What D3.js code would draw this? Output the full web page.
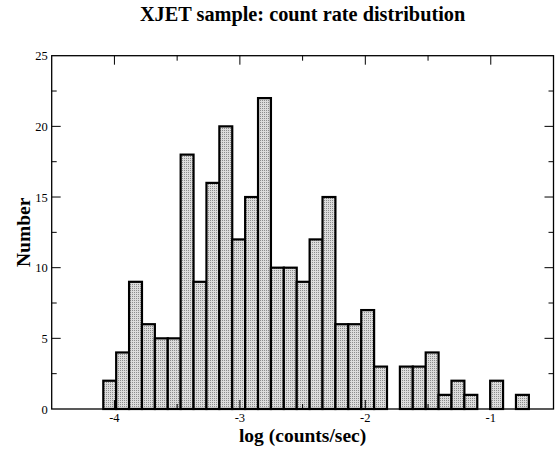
<!DOCTYPE html>
<html><head><meta charset="utf-8">
<script src="https://cdn.jsdelivr.net/npm/d3@7"></script>
<style>body{margin:0;background:#fff}svg{display:block}</style>
</head><body><div id="chart"></div>
<script>
// Histogram data: counts per bin, bins start at binStart with width binWidth
const binStart = -4.5;
const binWidth = 0.1028;
const counts = [0,0,0,0,2,4,9,6,5,5,18,9,16,20,12,15,22,10,10,9,12,15,6,6,7,3,0,3,3,4,1,2,1,0,2,0,1,0,0];
const xTickLabels = [-4,-3,-2,-1];
const xTicksMinor = [-3.5,-2.5,-1.5];
const yTicksMajor = [0,5,10,15,20,25];
const yTicksMinor = [2.5,7.5,12.5,17.5,22.5];
const title = "XJET sample: count rate distribution";
const xTitle = "log (counts/sec)";
const yTitle = "Number";

const W = 555, H = 449;
const m = {l:51.7, r:1.5, t:55.7, b:40};
const svg = d3.select("#chart").append("svg").attr("width",W).attr("height",H);
const x = d3.scaleLinear().domain([-4.5,-0.5]).range([m.l, W-m.r]);
const y = d3.scaleLinear().domain([0,25]).range([409, m.t]);

const defs = svg.append("defs");
const pat = defs.append("pattern").attr("id","dots").attr("patternUnits","userSpaceOnUse")
  .attr("width",2).attr("height",2);
pat.append("rect").attr("width",2).attr("height",2).attr("fill","#dcdcdc");
pat.append("rect").attr("width",1).attr("height",1).attr("fill","#8c8c8c");

defs.append("clipPath").attr("id","clip").append("rect")
  .attr("x",x(-4.5)).attr("y",m.t-2).attr("width",x(-0.5)-x(-4.5)).attr("height",409-m.t+4);

const bins = counts.map((c,i)=>({x0: binStart + i*binWidth, x1: binStart + (i+1)*binWidth, c}));
const g = svg.append("g").attr("clip-path","url(#clip)");
g.selectAll("rect.bar").data(bins).join("rect").attr("class","bar")
  .attr("x", d=>x(d.x0)).attr("width", d=>x(d.x1)-x(d.x0))
  .attr("y", d=>y(d.c)).attr("height", d=>y(0)-y(d.c))
  .attr("fill","url(#dots)").attr("stroke","#000").attr("stroke-width",2.2);

// frame
const frame = svg.append("g");
frame.append("rect").attr("x",x(-4.5)).attr("y",y(25)).attr("width",x(-0.5)-x(-4.5)).attr("height",y(0)-y(25))
  .attr("fill","none").attr("stroke","#000").attr("stroke-width",1.3);

// ticks (inward, on all four sides)
function xt(vals, len){
  frame.selectAll(null).data(vals).join("line")
    .attr("x1",d=>x(d)).attr("x2",d=>x(d)).attr("y1",y(0)).attr("y2",y(0)-len).attr("stroke","#000").attr("stroke-width",1);
  frame.selectAll(null).data(vals).join("line")
    .attr("x1",d=>x(d)).attr("x2",d=>x(d)).attr("y1",y(25)).attr("y2",y(25)+len).attr("stroke","#000").attr("stroke-width",1);
}
function yt(vals, len){
  frame.selectAll(null).data(vals).join("line")
    .attr("x1",x(-4.5)).attr("x2",x(-4.5)+len).attr("y1",d=>y(d)).attr("y2",d=>y(d)).attr("stroke","#000").attr("stroke-width",1);
  frame.selectAll(null).data(vals).join("line")
    .attr("x1",x(-0.5)).attr("x2",x(-0.5)-len).attr("y1",d=>y(d)).attr("y2",d=>y(d)).attr("stroke","#000").attr("stroke-width",1);
}
xt(xTickLabels, 9); xt(xTicksMinor, 5);
yt(yTicksMajor.slice(1,5), 9); yt(yTicksMinor, 5);

// tick labels
svg.selectAll("text.xl").data(xTickLabels).join("text").attr("class","xl")
  .attr("x",d=>x(d)).attr("y",422).attr("text-anchor","middle")
  .attr("font-family","Liberation Serif, serif").attr("font-size",12.5).text(d=>d);
svg.selectAll("text.yl").data(yTicksMajor).join("text").attr("class","yl")
  .attr("x",x(-4.5)-4).attr("y",d=>y(d)+4.5).attr("text-anchor","end")
  .attr("font-family","Liberation Serif, serif").attr("font-size",12.5).text(d=>d);

svg.append("text").attr("x",(x(-4.5)+x(-0.5))/2).attr("y",21).attr("text-anchor","middle")
  .attr("font-family","Liberation Serif, serif").attr("font-weight","bold").attr("font-size",20.3).text(title);
svg.append("text").attr("x",(x(-4.5)+x(-0.5))/2).attr("y",442).attr("text-anchor","middle")
  .attr("font-family","Liberation Serif, serif").attr("font-weight","bold").attr("font-size",19.5).text(xTitle);
svg.append("text").attr("transform",`translate(30,${(y(0)+y(25))/2}) rotate(-90)`).attr("text-anchor","middle")
  .attr("font-family","Liberation Serif, serif").attr("font-weight","bold").attr("font-size",19.5).text(yTitle);
</script></body></html>
